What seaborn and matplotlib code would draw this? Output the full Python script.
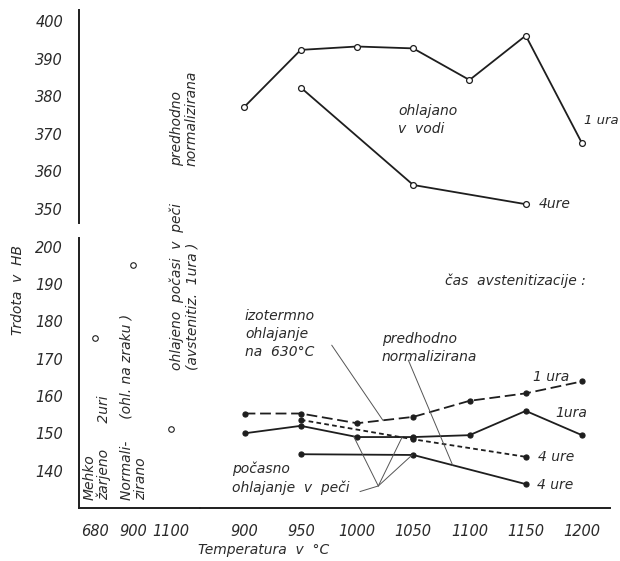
import numpy as np
import pandas as pd
import matplotlib
matplotlib.use("Agg")
import matplotlib.pyplot as plt
import seaborn as sns

# ---- data -------------------------------------------------------------
# water quenched (upper part of the hardness scale)
temp_voda_1h = [900, 950, 1000, 1050, 1100, 1150, 1200]
hb_voda_1h = [377.2, 392.3, 393.2, 392.7, 384.3, 396.1, 367.5]
temp_voda_4h = [950, 1050, 1150]
hb_voda_4h = [382.3, 356.4, 351.3]

# isothermal cooling at 630 °C, 1 h austenitization
temp_izo_1h = [900, 950, 1000, 1050, 1100, 1150, 1200]
hb_izo_1h = [155.3, 155.3, 152.7, 154.4, 158.7, 160.7, 163.9]
# furnace cooled, 1 h
temp_pec_1h = [900, 950, 1000, 1050, 1100, 1150, 1200]
hb_pec_1h = [150.0, 152.0, 149.0, 149.0, 149.5, 156.0, 149.5]
# 4 h, dashed
temp_izo_4h = [950, 1050, 1150]
hb_izo_4h = [153.6, 148.4, 143.7]
# 4 h, solid
temp_pec_4h = [950, 1050, 1150]
hb_pec_4h = [144.4, 144.2, 136.4]

# reference states
ref_labels = ["680", "900", "1100"]
ref_hb = [175.4, 195.0, 151.1]

upper_ticks = [350, 360, 370, 380, 390, 400]
lower_ticks = [140, 150, 160, 170, 180, 190, 200]
temp_ticks = [900, 950, 1000, 1050, 1100, 1150, 1200]

# ---- style ------------------------------------------------------------
sns.set_style("white")
plt.rcParams["font.family"] = ["DejaVu Sans"]
plt.rcParams["font.style"] = "italic"
plt.rcParams["font.size"] = 10
INK = "#1e1e1e"
TXT = "#2a2a2a"

W, H = 620, 561
fig = plt.figure(figsize=(W / 100, H / 100), dpi=100)


def box(x0, y0, x1, y1):
    return [x0 / W, 1 - y1 / H, (x1 - x0) / W, (y1 - y0) / H]


def fx(px):
    return px / W


def fy(py):
    return 1 - py / H


ax_top = fig.add_axes(box(79, 10, 610, 223))
ax_ref = fig.add_axes(box(79, 238, 200, 508))
ax_t = fig.add_axes(box(200, 238, 610, 508), sharey=ax_ref)
for a in (ax_top, ax_ref, ax_t):
    a.set_facecolor("none")
    for s in a.spines.values():
        s.set_linewidth(1.4)
        s.set_color(INK)

line_kw = dict(color=INK, linewidth=1.3, errorbar=None, ax=None)


def draw(ax, x, y, ls="-", marker="o", ms=3.6, mfc=INK):
    kw = dict(line_kw)
    kw["ax"] = ax
    sns.lineplot(x=x, y=y, linestyle=ls, marker=marker, markersize=ms,
                 markerfacecolor=mfc, markeredgecolor=INK,
                 markeredgewidth=0.9, **kw)


# upper: water quenched
draw(ax_top, temp_voda_1h, hb_voda_1h, ms=4.2, mfc="white")
draw(ax_top, temp_voda_4h, hb_voda_4h, ms=4.2, mfc="white")
ax_top.set_xlim(752.9, 1224.9)
ax_top.set_ylim(346.3, 402.9)
ax_top.set_yticks(upper_ticks)
ax_top.set_xticks([])
for s in ("top", "right", "bottom"):
    ax_top.spines[s].set_visible(False)

# lower: slow / isothermal cooling
dash_long = (0, (6, 2.6))
dash_short = (0, (2.6, 1.8))
draw(ax_t, temp_izo_1h, hb_izo_1h, ls=dash_long)
draw(ax_t, temp_pec_1h, hb_pec_1h)
draw(ax_t, temp_izo_4h, hb_izo_4h, ls=dash_short)
draw(ax_t, temp_pec_4h, hb_pec_4h)
ax_t.set_xlim(860.4, 1224.9)
ax_t.set_xticks(temp_ticks)
ax_t.set_xticklabels([str(t) for t in temp_ticks])
for s in ("top", "right", "left"):
    ax_t.spines[s].set_visible(False)
ax_t.tick_params(axis="y", left=False, labelleft=False)

# reference states
ref_df = pd.DataFrame({"stanje": ref_labels, "HB": ref_hb})
sns.scatterplot(data=ref_df, x="stanje", y="HB", ax=ax_ref, marker="o",
                s=16, facecolor="white", edgecolor=INK, linewidth=0.8)
ax_ref.set_xlim(-0.42, 2.76)
ax_ref.set_ylim(130.0, 202.3)
ax_ref.set_yticks(lower_ticks)
for s in ("top", "right"):
    ax_ref.spines[s].set_visible(False)

for a in (ax_top, ax_ref, ax_t):
    a.set_xlabel("")
    a.set_ylabel("")
    a.tick_params(direction="inout", length=9, width=1.0, colors=INK,
                  labelcolor=TXT, labelsize=10.5, pad=7)
    for lab in a.get_xticklabels() + a.get_yticklabels():
        lab.set_fontstyle("italic")

# axis titles
fig.text(fx(264), fy(550), "Temperatura  v  °C", ha="center", va="center",
         color=TXT, fontsize=10)
fig.text(fx(18), fy(290), "Trdota  v  HB", ha="center", va="center",
         rotation=90, color=TXT, fontsize=10)

# rotated annotations for reference states
rot_kw = dict(rotation=90, ha="center", va="bottom", multialignment="left",
              color=TXT, fontsize=10, linespacing=1.05)
fig.text(fx(184.5), fy(166), "predhodno\nnormalizirana", **rot_kw)
fig.text(fx(184.5), fy(370), "ohlajeno  počasi  v  peči\n(avstenitiz.  1ura )",
         **rot_kw)
fig.text(fx(97), fy(500), "Mehko\nžarjeno      2uri", **rot_kw)
fig.text(fx(133.5), fy(500), "Normali-     (ohl. na zraku )\nzirano", **rot_kw)

# curve labels
lab_kw = dict(ha="left", va="center", color=TXT, fontsize=10)
fig.text(fx(398), fy(120), "ohlajano\nv  vodi", linespacing=1.3, **lab_kw)
fig.text(fx(584), fy(121), "1 ura", ha="left", va="center", color=TXT,
         fontsize=9.5)
fig.text(fx(539), fy(204), "4ure", **lab_kw)
fig.text(fx(445), fy(281), "čas  avstenitizacije :", **lab_kw)
fig.text(fx(533), fy(377), "1 ura", **lab_kw)
fig.text(fx(555), fy(413), "1ura", **lab_kw)
fig.text(fx(538), fy(457), "4 ure", **lab_kw)
fig.text(fx(537), fy(485), "4 ure", **lab_kw)
fig.text(fx(245), fy(334), "izotermno\nohlajanje\nna  630°C", linespacing=1.35,
         **lab_kw)
fig.text(fx(382), fy(348), "predhodno\nnormalizirana", linespacing=1.35,
         **lab_kw)
fig.text(fx(232), fy(478), "počasno\nohlajanje  v  peči", linespacing=1.35,
         **lab_kw)

# leader lines to the curves
lead_kw = dict(arrowprops=dict(arrowstyle="-", color="#555555", lw=0.7,
                               shrinkA=0, shrinkB=0),
               xycoords="data", textcoords="data")
x_izo = 1023
ax_t.annotate("", xy=(x_izo, np.interp(x_izo, temp_izo_1h, hb_izo_1h)),
              xytext=(977.5, 173.6), **lead_kw)
x_norm = 1085
ax_t.annotate("", xy=(x_norm, np.interp(x_norm, temp_pec_4h, hb_pec_4h)),
              xytext=(1045.6, 169.6), **lead_kw)
hub = (1018.9, 135.9)
ax_t.annotate("", xy=hub, xytext=(1002.6, 134.4), **lead_kw)
x_a, x_b, x_c = 997, 1040, 1049
ax_t.annotate("", xy=(x_a, np.interp(x_a, temp_pec_1h, hb_pec_1h)),
              xytext=hub, **lead_kw)
ax_t.annotate("", xy=(x_b, np.interp(x_b, temp_izo_4h, hb_izo_4h)),
              xytext=hub, **lead_kw)
ax_t.annotate("", xy=(x_c, np.interp(x_c, temp_pec_4h, hb_pec_4h)),
              xytext=hub, **lead_kw)

fig.savefig("out.png", dpi=100, facecolor="white")
